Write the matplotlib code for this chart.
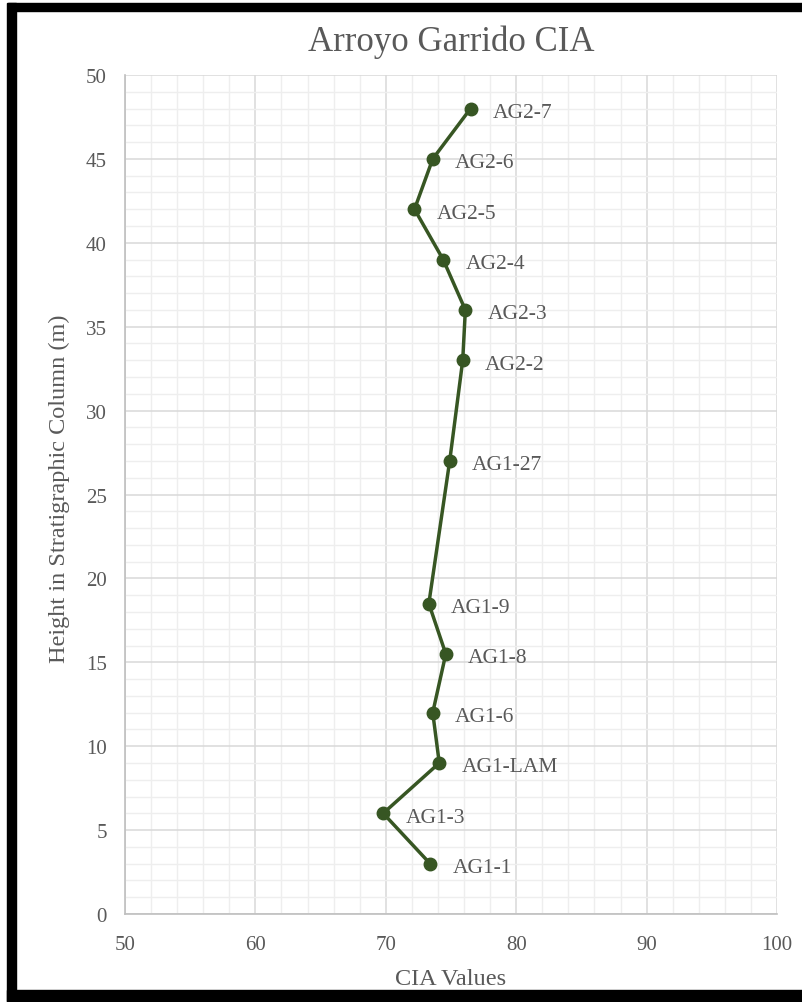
import matplotlib
matplotlib.use("Agg")
import matplotlib.pyplot as plt
from matplotlib.patches import Rectangle
from matplotlib.ticker import MultipleLocator

# datos
muestras = ["AG1-1", "AG1-3", "AG1-LAM", "AG1-6", "AG1-8", "AG1-9", "AG1-27",
            "AG2-2", "AG2-3", "AG2-4", "AG2-5", "AG2-6", "AG2-7"]
cia = [73.4, 69.8, 74.1, 73.6, 74.6, 73.3, 74.9, 75.9, 76.1, 74.4, 72.2, 73.6, 76.5]
altura = [3, 6, 9, 12, 15.5, 18.5, 27, 33, 36, 39, 42, 45, 48]

gris = "#595959"
verde = "#375623"
plt.rcParams['font.family'] = ['Liberation Serif', 'DejaVu Serif']

fig = plt.figure(figsize=(8.03, 10.03), dpi=100)
ax = fig.add_axes([125/803, 1-915/1003, (777-125)/803, (915-76)/1003])

ax.plot(cia, altura, color=verde, lw=2.5, marker='o', ms=9, zorder=3)
for x, y, t in zip(cia, altura, muestras):
    ax.annotate(t, (x, y), xytext=(16, -1), textcoords='offset points',
                va='center_baseline', ha='left', fontsize=15.5, color=gris)

ax.set_xlim(50, 100)
ax.set_ylim(0, 50)
ax.xaxis.set_major_locator(MultipleLocator(10))
ax.xaxis.set_minor_locator(MultipleLocator(2))
ax.yaxis.set_major_locator(MultipleLocator(5))
ax.yaxis.set_minor_locator(MultipleLocator(1))
ax.grid(which='major', color='#D9D9D9', lw=1.1)
ax.grid(which='minor', color='#EEEEEE', lw=1.0)
ax.set_axisbelow(True)
for s in ['top', 'right']:
    ax.spines[s].set_visible(False)
for s in ['left', 'bottom']:
    ax.spines[s].set_color('#BFBFBF')
    ax.spines[s].set_linewidth(1.2)
ax.tick_params(which='both', length=0, labelsize=15, labelcolor=gris)
ax.tick_params(axis='y', pad=13)
ax.tick_params(axis='x', pad=15)

ax.set_xlabel("CIA Values", fontsize=17.5, color=gris, labelpad=10)
ax.set_ylabel("Height in Stratigraphic Column (m)", fontsize=17.5, color=gris)
ax.yaxis.set_label_coords(-0.084, 0.508)
fig.text((125+777)/2/803, 1-42/1003, "Arroyo Garrido CIA", ha='center', va='center',
         fontsize=25, color=gris)

# marco negro
W, H = 803, 1003
marcos = [(8, 4, W-8, 8), (7, 4, 9, H-4), (7, 991, W-7, 11)]
for x0, y0, w, h in marcos:
    fig.patches.append(Rectangle((x0/W, 1-(y0+h)/H), w/W, h/H, transform=fig.transFigure,
                                 color='black', zorder=10))

fig.savefig("out.png", dpi=100, facecolor='white')
